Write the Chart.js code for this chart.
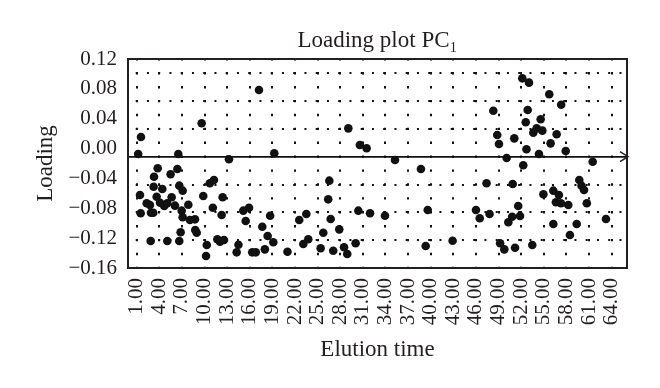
<!DOCTYPE html>
<html>
<head>
<meta charset="utf-8">
<script src="https://cdn.jsdelivr.net/npm/chart.js@4.4.1/dist/chart.umd.min.js"></script>
<style>
    html, body { margin: 0; padding: 0; background: #fff; }
    #wrap { width: 660px; height: 388px; }
</style>
</head>
<body>
<div id="wrap"><canvas id="loadingChart" width="660" height="388"></canvas></div>
<script>
// Loading plot PC1
const elutionTime = [
    1.57, 1.2, 6.52, 9.62, 13.24, 3.79, 6.4, 3.3, 5.5, 3.25, 4.4, 6.65, 7.1, 1.44, 2.33, 2.76, 3.65,
    4.1, 4.66, 5.06, 5.64, 6.08, 1.53, 2.9, 3.2, 6.97, 7.85, 7.1, 8.07, 8.73, 6.83, 8.77, 8.96, 2.86,
    5.06, 6.65, 9.83, 10.3, 10.2, 11.1, 10.7, 11.25, 11.7, 12.05, 12.58, 12.27, 12.4, 14.26, 14.5,
    17.22, 29.07, 30.6, 31.5, 19.25, 26.55, 26.4, 15.14, 15.9, 15.46, 18.7, 17.66, 18.37, 19.12, 18.0,
    16.33, 16.8, 21.0, 22.56, 23.5, 23.1, 23.76, 25.4, 25.75, 26.73, 27.87, 27.07, 28.5, 28.93, 30.04,
    30.4, 31.95,
    35.26, 38.7, 47.4, 33.93, 39.6, 46.0, 46.5, 47.8, 39.33, 42.9,
    52.14, 53.03, 55.72, 57.3, 48.3, 52.86, 52.6, 54.58, 54.05, 54.8, 53.6, 48.82, 51.08, 56.7, 49.05,
    55.9, 52.7, 54.35, 57.9, 50.07, 52.27, 61.48, 50.87, 59.7, 60.0, 60.33, 54.94, 56.26, 57.0, 56.6,
    57.27, 58.24, 60.7, 51.6, 50.8, 50.29, 51.84, 56.26, 59.36, 63.24, 58.46, 49.2, 49.76, 51.18, 53.47
];
const loading = [
    0.0155, -0.0073, -0.0073, 0.0339, -0.0144, -0.0264, -0.0274, -0.0377, -0.0345, -0.0511, -0.0542,
    -0.0497, -0.0564, -0.0622, -0.0733, -0.0756, -0.0645, -0.0725, -0.0769, -0.0733, -0.0653, -0.0765,
    -0.0867, -0.0859, -0.0859, -0.0832, -0.0752, -0.0921, -0.0957, -0.0948, -0.1122, -0.1091, -0.1127,
    -0.1238, -0.1238, -0.1238, -0.0636, -0.1292, -0.144, -0.0792, -0.0465, -0.0421, -0.1215, -0.1248,
    -0.1225, -0.089, -0.0653, -0.139, -0.1288,
    0.0785, 0.0271, 0.0048, 0.0004, -0.0063, -0.043, -0.068, -0.0832, -0.0792, -0.097, -0.09, -0.1047,
    -0.1171, -0.1256, -0.135, -0.139, -0.139, -0.1382, -0.0957, -0.0877, -0.1279, -0.1215, -0.1336,
    -0.1127, -0.0943, -0.1082, -0.1368, -0.1323, -0.1413, -0.1269, -0.0832, -0.0867,
    -0.0153, -0.0274, -0.0465, -0.090, -0.0823, -0.0823, -0.0934, -0.0877, -0.1305, -0.1234,
    0.0941, 0.0883, 0.0727, 0.0588, 0.0507, 0.0517, 0.0352, 0.0392, 0.0271, 0.024, 0.0213, 0.0182,
    0.0137, 0.0191, 0.0061, 0.007, -0.001, -0.0073, -0.0033, -0.0126, -0.0224, -0.0176, -0.0475,
    -0.0421, -0.0497, -0.0555, -0.0613, -0.0564, -0.0622, -0.072, -0.0733, -0.0756, -0.0733, -0.0769,
    -0.0913, -0.0988, -0.0903, -0.101, -0.101, -0.0943, -0.1158, -0.1269, -0.135, -0.1328, -0.1292
];

const xTicks = [1, 4, 7, 10, 13, 16, 19, 22, 25, 28, 31, 34, 37, 40, 43, 46, 49, 52, 55, 58, 61, 64];
const yTicks = [0.12, 0.08, 0.04, 0.00, -0.04, -0.08, -0.12, -0.16];
// lignes pointillées (décalées par rapport aux étiquettes, comme sur l'original)
const gridLevels = [0.101, 0.0637, 0.0264, -0.0109, -0.0482, -0.0854, -0.1227];
const axisLevel = -0.0109;

const X_MIN = -0.15, X_MAX = 66.03;
const Y_MIN = -0.16, Y_MAX = 0.12;
const INK = '#231f20';
const FONT = "'Liberation Serif', 'Times New Roman', serif";

const points = elutionTime.map((t, i) => ({ x: t, y: loading[i] }));

function fmtLoading(v) {
    if (Math.abs(v) < 1e-9) v = 0;
    return v.toFixed(2).replace('-', '\u2212');
}

function isAxisLine(c) {
    return c.tick && Math.abs(c.tick.value - axisLevel) < 1e-6;
}

// flèche au bout de l'axe horizontal
const arrowPlugin = {
    id: 'axisArrow',
    afterDatasetsDraw(chart) {
        const ctx = chart.ctx;
        const y = chart.scales.y2.getPixelForValue(axisLevel);
        const x = chart.chartArea.right + 1;
        ctx.save();
        ctx.strokeStyle = INK;
        ctx.lineWidth = 1.5;
        ctx.beginPath();
        ctx.moveTo(x - 8, y - 5);
        ctx.lineTo(x, y);
        ctx.lineTo(x - 8, y + 5);
        ctx.stroke();
        ctx.restore();
    }
};

new Chart(document.getElementById('loadingChart'), {
    type: 'scatter',
    data: {
        datasets: [{
            label: 'PC1',
            data: points,
            backgroundColor: '#111',
            borderWidth: 0,
            pointRadius: 4.3,
            pointHoverRadius: 4.3
        }]
    },
    options: {
        responsive: false,
        animation: false,
        devicePixelRatio: 1,
        layout: { padding: 0 },
        plugins: {
            legend: { display: false },
            tooltip: { enabled: false }
        },
        scales: {
            x: {
                type: 'linear',
                position: 'bottom',
                min: X_MIN,
                max: X_MAX,
                afterBuildTicks: s => { s.ticks = xTicks.map(v => ({ value: v })); },
                afterFit: s => { s.height = 120; },
                ticks: {
                    autoSkip: false,
                    minRotation: 90,
                    maxRotation: 90,
                    padding: 10,
                    color: INK,
                    font: { family: FONT, size: 21 },
                    callback: v => v.toFixed(2)
                },
                grid: { color: '#111', lineWidth: 2, drawTicks: false },
                border: { display: true, color: INK, width: 2, dash: [2.4, 11.5], dashOffset: 0.8 },
                title: {
                    display: true,
                    text: 'Elution time',
                    color: INK,
                    font: { family: FONT, size: 23, lineHeight: 1.2 },
                    padding: { top: 0, bottom: 24 }
                }
            },
            x2: {
                type: 'linear',
                position: 'top',
                min: X_MIN,
                max: X_MAX,
                afterFit: s => { s.height = 59; },
                ticks: { display: false },
                grid: { drawOnChartArea: false, drawTicks: false },
                border: { display: true, color: INK, width: 2 },
                title: {
                    display: true,
                    text: 'Loading plot PC\u2081',
                    color: INK,
                    font: { family: FONT, size: 23, lineHeight: 1.2 },
                    padding: { top: 27, bottom: 0 }
                }
            },
            y: {
                type: 'linear',
                position: 'left',
                min: Y_MIN,
                max: Y_MAX,
                afterBuildTicks: s => { s.ticks = yTicks.map(v => ({ value: v })); },
                afterFit: s => { s.width = 128; },
                ticks: {
                    autoSkip: false,
                    padding: 11,
                    color: INK,
                    font: { family: FONT, size: 21 },
                    callback: v => fmtLoading(v)
                },
                grid: { drawOnChartArea: false, drawTicks: false },
                border: { display: true, color: INK, width: 2 },
                title: {
                    display: true,
                    text: 'Loading',
                    color: INK,
                    font: { family: FONT, size: 23, lineHeight: 1.2 },
                    padding: { top: 32, bottom: 0 }
                }
            },
            y2: {
                type: 'linear',
                position: 'right',
                min: Y_MIN,
                max: Y_MAX,
                afterBuildTicks: s => { s.ticks = gridLevels.map(v => ({ value: v })); },
                afterFit: s => { s.width = 33; },
                ticks: { display: false, autoSkip: false },
                grid: {
                    color: '#111',
                    drawTicks: false,
                    lineWidth: c => isAxisLine(c) ? 1.8 : 2
                },
                border: {
                    display: true,
                    color: INK,
                    width: 2,
                    dash: c => isAxisLine(c) ? [] : [2, 9.25],
                    dashOffset: 3.55
                }
            }
        }
    },
    plugins: [arrowPlugin]
});
</script>
</body>
</html>
